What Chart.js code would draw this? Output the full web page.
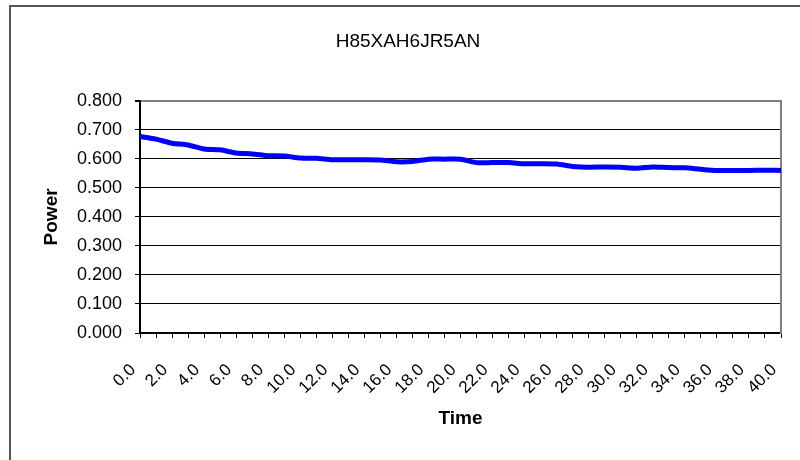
<!DOCTYPE html>
<html>
<head>
<meta charset="utf-8">
<script src="https://cdn.jsdelivr.net/npm/chart.js@4/dist/chart.umd.min.js"></script>
<style>
  body { margin: 0; background: #fff; }
  .wrap { position: relative; width: 800px; height: 460px; overflow: hidden; }
  .frame {
    position: absolute; left: 9px; top: 5px; width: 820px; height: 480px;
    border-left: 2px solid #555; border-top: 2px solid #555;
  }
  canvas { position: absolute; left: 0; top: 0; }
</style>
</head>
<body>
<div class="wrap">
  <div class="frame"></div>
  <canvas id="myChart" width="800" height="460"></canvas>
</div>
<script>
const title = "H85XAH6JR5AN";
const times = [
  "0.0", "1.0", "2.0", "3.0", "4.0", "5.0", "6.0", "7.0", "8.0", "9.0",
  "10.0", "11.0", "12.0", "13.0", "14.0", "15.0", "16.0", "17.0", "18.0", "19.0",
  "20.0", "21.0", "22.0", "23.0", "24.0", "25.0", "26.0", "27.0", "28.0", "29.0",
  "30.0", "31.0", "32.0", "33.0", "34.0", "35.0", "36.0", "37.0", "38.0", "39.0",
  "40.0",
];
const power = [
  0.677, 0.668, 0.654, 0.648, 0.634, 0.631, 0.620, 0.617, 0.611, 0.610,
  0.603, 0.602, 0.597, 0.597, 0.597, 0.596, 0.590, 0.591, 0.599, 0.599,
  0.599, 0.587, 0.587, 0.587, 0.583, 0.583, 0.582, 0.574, 0.571, 0.572,
  0.571, 0.568, 0.572, 0.570, 0.569, 0.564, 0.560, 0.560, 0.560, 0.561,
  0.560,
];
const yTickLabels = ["0.000", "0.100", "0.200", "0.300", "0.400", "0.500", "0.600", "0.700", "0.800"];

const FONT = "'Liberation Sans', Arial, sans-serif";
const ctx = document.getElementById("myChart").getContext("2d");

new Chart(ctx, {
  type: "line",
  data: {
    labels: times,
    datasets: [
      {
        label: "Power",
        data: power,
        borderColor: "#0000ff",
        borderWidth: 5,
        pointRadius: 0,
        tension: 0.25,
        fill: false,
      },
    ],
  },
  options: {
    responsive: false,
    animation: false,
    layout: { padding: { left: 16, right: 0, top: 0, bottom: 0 } },
    plugins: {
      legend: { display: false },
      tooltip: { enabled: false },
      title: {
        display: true,
        text: title,
        color: "#000",
        font: { family: FONT, size: 19, weight: "normal" },
        padding: { top: 30, bottom: 48 },
      },
    },
    scales: {
      x: {
        afterFit: (scale) => {
          scale.height = 127;
          // labels sit inside the frame, no extra side padding needed
          scale.paddingLeft = 0;
          scale.paddingRight = 0;
        },
        grid: { drawOnChartArea: false, tickLength: 5, tickColor: "#000", lineWidth: 1 },
        border: { display: true, color: "#000", width: 2 },
        ticks: {
          autoSkip: false,
          minRotation: 45,
          maxRotation: 45,
          padding: 22,
          labelOffset: -7,
          color: "#000",
          font: { family: FONT, size: 17 },
          callback: (v, i) => (i % 2 === 0 ? times[i] : ""),
        },
        title: {
          display: true,
          text: "Time",
          color: "#000",
          font: { family: FONT, size: 19, weight: "bold" },
          padding: { top: 0, bottom: 30 },
        },
      },
      y: {
        min: 0,
        max: 0.8,
        afterFit: (scale) => { scale.width = 124; },
        grid: {
          color: (c) => (c.tick && c.tick.value >= 0.8 ? "#808080" : "#000"),
          lineWidth: (c) => (c.tick && c.tick.value >= 0.8 ? 2 : 1),
          tickColor: "#000",
          tickLength: 5,
        },
        border: { display: true, color: "#000", width: 2 },
        ticks: {
          stepSize: 0.1,
          padding: 13,
          color: "#000",
          font: { family: FONT, size: 18 },
          callback: (v, i) => yTickLabels[i],
        },
        title: {
          display: true,
          text: "Power",
          color: "#000",
          font: { family: FONT, size: 19, weight: "bold" },
          padding: { top: 24, bottom: 0 },
        },
      },
      y2: {
        position: "right",
        min: 0,
        max: 0.8,
        afterFit: (scale) => { scale.width = 19; },
        grid: { display: false },
        ticks: { display: false },
        border: { display: true, color: "#808080", width: 2 },
      },
    },
  },
});
</script>
</body>
</html>
